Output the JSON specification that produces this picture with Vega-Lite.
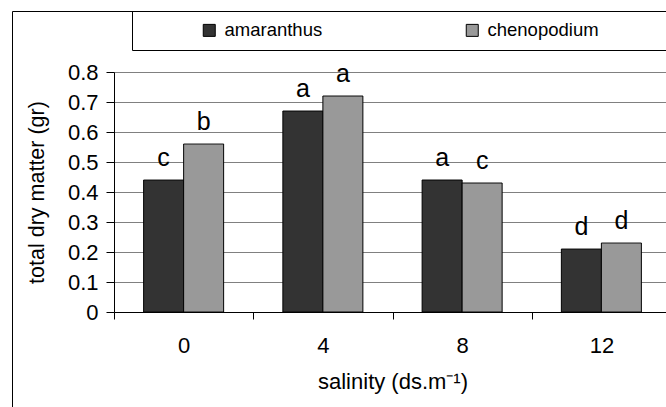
{
  "$schema": "https://vega.github.io/schema/vega-lite/v6.json",
  "width": 557,
  "height": 240,
  "autosize": {"type": "none"},
  "padding": {"left": 114, "top": 72, "right": 0, "bottom": 95},
  "background": "white",
  "config": {
    "font": "Liberation Sans",
    "view": {"stroke": null},
    "axis": {"labelFont": "Liberation Sans", "titleFont": "Liberation Sans", "labelColor": "black", "titleColor": "black", "titleFontWeight": "normal"}
  },
  "data": {
    "values": [
      {"salinity": "0", "plant": "amaranthus", "value": 0.44, "letter": "c"},
      {"salinity": "0", "plant": "chenopodium", "value": 0.56, "letter": "b"},
      {"salinity": "4", "plant": "amaranthus", "value": 0.67, "letter": "a"},
      {"salinity": "4", "plant": "chenopodium", "value": 0.72, "letter": "a"},
      {"salinity": "8", "plant": "amaranthus", "value": 0.44, "letter": "a"},
      {"salinity": "8", "plant": "chenopodium", "value": 0.43, "letter": "c"},
      {"salinity": "12", "plant": "amaranthus", "value": 0.21, "letter": "d"},
      {"salinity": "12", "plant": "chenopodium", "value": 0.23, "letter": "d"}
    ]
  },
  "encoding": {
    "x": {
      "field": "salinity", "type": "nominal", "sort": ["0", "4", "8", "12"],
      "scale": {"paddingInner": 0, "paddingOuter": 0},
      "axis": {
        "title": "salinity (ds.m⁻¹)", "labelAngle": 0, "tickBand": "extent",
        "domainColor": "black", "tickColor": "black", "tickSize": 7,
        "labelFontSize": 22, "labelPadding": 16, "titleFontSize": 22, "titlePadding": 15,
        "grid": false
      }
    },
    "xOffset": {"field": "plant", "type": "nominal", "scale": {"paddingOuter": 0.74, "paddingInner": 0}},
    "y": {
      "field": "value", "type": "quantitative",
      "scale": {"domain": [0, 0.8], "nice": false},
      "axis": {
        "title": "total dry matter (gr)", "values": [0, 0.1, 0.2, 0.3, 0.4, 0.5, 0.6, 0.7, 0.8],
        "labelExpr": "datum.value == 0 ? '0' : format(datum.value, '.1f')",
        "domainColor": "black", "tickColor": "black", "tickSize": 8,
        "gridColor": "#808080", "gridOpacity": 1,
        "labelFontSize": 22, "labelPadding": 8, "titleFontSize": 21.5, "titlePadding": 19
      }
    }
  },
  "layer": [
    {
      "mark": {"type": "bar", "stroke": "black", "strokeWidth": 1},
      "encoding": {
        "color": {
          "field": "plant", "type": "nominal",
          "scale": {"domain": ["amaranthus", "chenopodium"], "range": ["#333333", "#999999"]},
          "legend": {
            "title": "\u00a0", "titleOrient": "right", "titlePadding": 110, "titleFontSize": 18,
            "orient": "none", "legendX": 18, "legendY": -61,
            "direction": "horizontal", "strokeColor": "black", "padding": 10,
            "symbolType": "square", "symbolSize": 144, "symbolStrokeColor": "black", "symbolStrokeWidth": 1,
            "symbolOffset": 58, "labelOffset": 6, "columnPadding": 82,
            "labelFontSize": 18.5, "labelFont": "Liberation Sans", "labelColor": "black"
          }
        },
        "strokeDash": {
          "datum": "frame",
          "scale": {"range": [[1, 0]]},
          "legend": {
            "title": null, "orient": "none", "legendX": -102, "legendY": -61,
            "strokeColor": "black", "padding": 500, "symbolOpacity": 0, "labelExpr": "''"
          }
        }
      }
    },
    {
      "mark": {"type": "text", "baseline": "alphabetic", "dy": -14, "fontSize": 25, "font": "Liberation Sans", "color": "black"},
      "encoding": {"text": {"field": "letter"}}
    }
  ]
}
